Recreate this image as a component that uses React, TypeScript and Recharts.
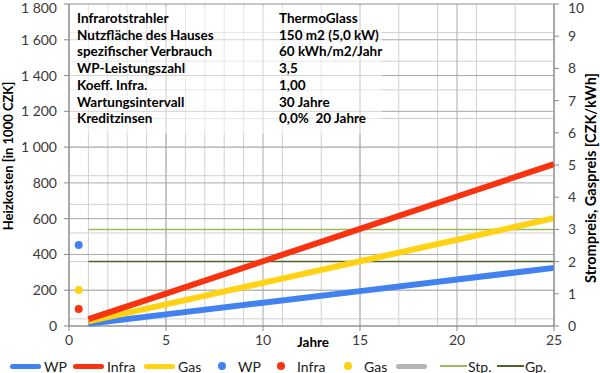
import {
  CartesianGrid,
  ComposedChart,
  Line,
  Scatter,
  XAxis,
  YAxis,
} from "recharts";

const years = [1, 5, 10, 15, 20, 25];
const wpCost = [13, 65, 130, 195, 260, 325];
const infraCost = [38, 181, 362, 543, 724, 905];
const gasCost = [26, 121, 241, 362, 482, 603];

// single points near year 0.5
const dotYear = 0.5;
const wpDot = 453;
const infraDot = 95;
const gasDot = 201;

// price levels (right axis)
const priceYears = [1, 25];
const stpPrice = [3, 3];
const gpPrice = [2, 2];

const xTicks = [0, 5, 10, 15, 20, 25];
const leftTicks = [0, 200, 400, 600, 800, 1000, 1200, 1400, 1600, 1800];
const rightTicks = [0, 1, 2, 3, 4, 5, 6, 7, 8, 9, 10];

const infoLabels = [
  "Infrarotstrahler",
  "Nutzfläche des Hauses",
  "spezifischer Verbrauch",
  "WP-Leistungszahl",
  "Koeff. Infra.",
  "Wartungsintervall",
  "Kreditzinsen",
];
const infoValues = [
  "ThermoGlass",
  "150 m2 (5,0 kW)",
  "60 kWh/m2/Jahr",
  "3,5",
  "1,00",
  "30 Jahre",
  "0,0%  20 Jahre",
];

const BLUE = "#4182f0";
const RED = "#f7340f";
const YELLOW = "#ffd314";
const STP = "#9bbb59";
const GP = "#4f6228";
const FONT = "Lato, 'Open Sans', sans-serif";

const toPoints = (xs: number[], ys: number[]) => xs.map((x, i) => ({ x, y: ys[i] }));

const wpData = toPoints(years, wpCost);
const infraData = toPoints(years, infraCost);
const gasData = toPoints(years, gasCost);
const stpData = toPoints(priceYears, stpPrice);
const gpData = toPoints(priceYears, gpPrice);

const minorH = Array.from({ length: 46 }, (_, i) => i * 40);
const minorV = Array.from({ length: 26 }, (_, i) => i);

const fmt = (v: number) =>
  v >= 1000 ? `${Math.floor(v / 1000)} ${String(v % 1000).padStart(3, "0")}` : String(v);

const legendItems = [
  { kind: "thick", color: BLUE, label: "WP", left: 10 },
  { kind: "thick", color: RED, label: "Infra", left: 73 },
  { kind: "thick", color: YELLOW, label: "Gas", left: 144 },
  { kind: "dot", color: BLUE, label: "WP", left: 218 },
  { kind: "dot", color: RED, label: "Infra", left: 277 },
  { kind: "dot", color: YELLOW, label: "Gas", left: 344 },
  { kind: "thick", color: "#b4b4b4", label: "", left: 396 },
  { kind: "thin", color: STP, label: "Stp.", left: 440 },
  { kind: "thin", color: GP, label: "Gp.", left: 497 },
];

const tickStyle = { fill: "#3a3a3a", fontSize: 14, fontFamily: FONT };
const titleStyle = { fontFamily: FONT, fontWeight: 700, fontSize: 13, fill: "#000" };

export default function App() {
  return (
    <div style={{ position: "absolute", left: 0, top: 0, width: 600, height: 373, background: "#fff" }}>
      <ComposedChart width={600} height={373} margin={{ top: 4, right: 0, bottom: 23, left: 0 }}>
        <CartesianGrid
          yAxisId="left"
          stroke="#d0d0d0"
          horizontalValues={minorH}
          verticalValues={minorV}
        />
        <CartesianGrid
          yAxisId="left"
          stroke="#a8a8a8"
          horizontalValues={leftTicks}
          verticalValues={xTicks}
        />
        <XAxis
          type="number"
          dataKey="x"
          domain={[0, 25]}
          ticks={xTicks}
          height={24}
          tick={tickStyle}
          tickSize={5}
          tickMargin={4}
          stroke="#8a8a8a"
          allowDuplicatedCategory={false}
        />
        <YAxis
          yAxisId="left"
          domain={[0, 1800]}
          ticks={leftTicks}
          width={69}
          tick={tickStyle}
          tickFormatter={fmt}
          tickSize={5}
          tickMargin={7}
          stroke="#8a8a8a"
          label={{
            value: "Heizkosten [in 1000 CZK]",
            angle: -90,
            position: "center",
            dx: -26,
            dy: -9,
            style: titleStyle,
          }}
        />
        <YAxis
          yAxisId="right"
          orientation="right"
          domain={[0, 10]}
          ticks={rightTicks}
          width={46}
          tick={tickStyle}
          tickSize={5}
          tickMargin={9}
          stroke="#8a8a8a"
          label={{
            value: "Strompreis, Gaspreis  [CZK/kWh]",
            angle: -90,
            position: "center",
            dx: 14,
            dy: 13,
            style: { ...titleStyle, fontSize: 14.5 },
          }}
        />
        <Line yAxisId="right" data={stpData} dataKey="y" stroke={STP} strokeWidth={1.5} dot={false} isAnimationActive={false} />
        <Line yAxisId="right" data={gpData} dataKey="y" stroke={GP} strokeWidth={1.5} dot={false} isAnimationActive={false} />
        <Line yAxisId="left" data={wpData} dataKey="y" stroke={BLUE} strokeWidth={6} dot={false} isAnimationActive={false} />
        <Line yAxisId="left" data={gasData} dataKey="y" stroke={YELLOW} strokeWidth={6} dot={false} isAnimationActive={false} />
        <Line yAxisId="left" data={infraData} dataKey="y" stroke={RED} strokeWidth={6} dot={false} isAnimationActive={false} />
        <Scatter yAxisId="left" data={[{ x: dotYear, y: wpDot }]} dataKey="y" fill={BLUE} shape={(p: any) => <circle cx={p.cx} cy={p.cy} r={4} fill={BLUE} />} isAnimationActive={false} />
        <Scatter yAxisId="left" data={[{ x: dotYear, y: infraDot }]} dataKey="y" fill={RED} shape={(p: any) => <circle cx={p.cx} cy={p.cy} r={4} fill={RED} />} isAnimationActive={false} />
        <Scatter yAxisId="left" data={[{ x: dotYear, y: gasDot }]} dataKey="y" fill={YELLOW} shape={(p: any) => <circle cx={p.cx} cy={p.cy} r={4} fill={YELLOW} />} isAnimationActive={false} />
      </ComposedChart>

      {/* info box */}
      <div
        style={{
          position: "absolute",
          left: 70,
          top: 6,
          width: 312,
          height: 128,
          background: "rgba(255,255,255,0.5)",
          fontFamily: FONT,
          fontWeight: 700,
          fontSize: 13.5,
          color: "#000",
        }}
      >
        {infoLabels.map((l, i) => (
          <div key={i} style={{ position: "absolute", top: 4 + i * 16.7, left: 7, lineHeight: "16px", whiteSpace: "pre" }}>
            {l}
          </div>
        ))}
        {infoValues.map((v, i) => (
          <div key={i} style={{ position: "absolute", top: 4 + i * 16.7, left: 209, lineHeight: "16px", whiteSpace: "pre" }}>
            {v}
          </div>
        ))}
      </div>

      <div
        style={{
          position: "absolute",
          left: 297,
          top: 334,
          fontFamily: FONT,
          fontWeight: 700,
          fontSize: 13.5,
          lineHeight: "16px",
        }}
      >
        Jahre
      </div>

      {/* legend */}
      {legendItems.map((it, i) => (
        <div
          key={i}
          style={{
            position: "absolute",
            left: it.left,
            top: 358,
            height: 16,
            display: "flex",
            alignItems: "center",
            fontFamily: FONT,
            fontSize: 14,
            color: "#202020",
          }}
        >
          {it.kind === "thick" && (
            <span style={{ display: "inline-block", width: 31, height: 5, borderRadius: 3, background: it.color, marginRight: 3 }} />
          )}
          {it.kind === "thin" && (
            <span style={{ display: "inline-block", width: 27, height: 1.5, background: it.color, marginRight: 1 }} />
          )}
          {it.kind === "dot" && (
            <span style={{ display: "inline-block", width: 8, height: 8, borderRadius: 4, background: it.color, marginRight: 12 }} />
          )}
          <span>{it.label}</span>
        </div>
      ))}
    </div>
  );
}
